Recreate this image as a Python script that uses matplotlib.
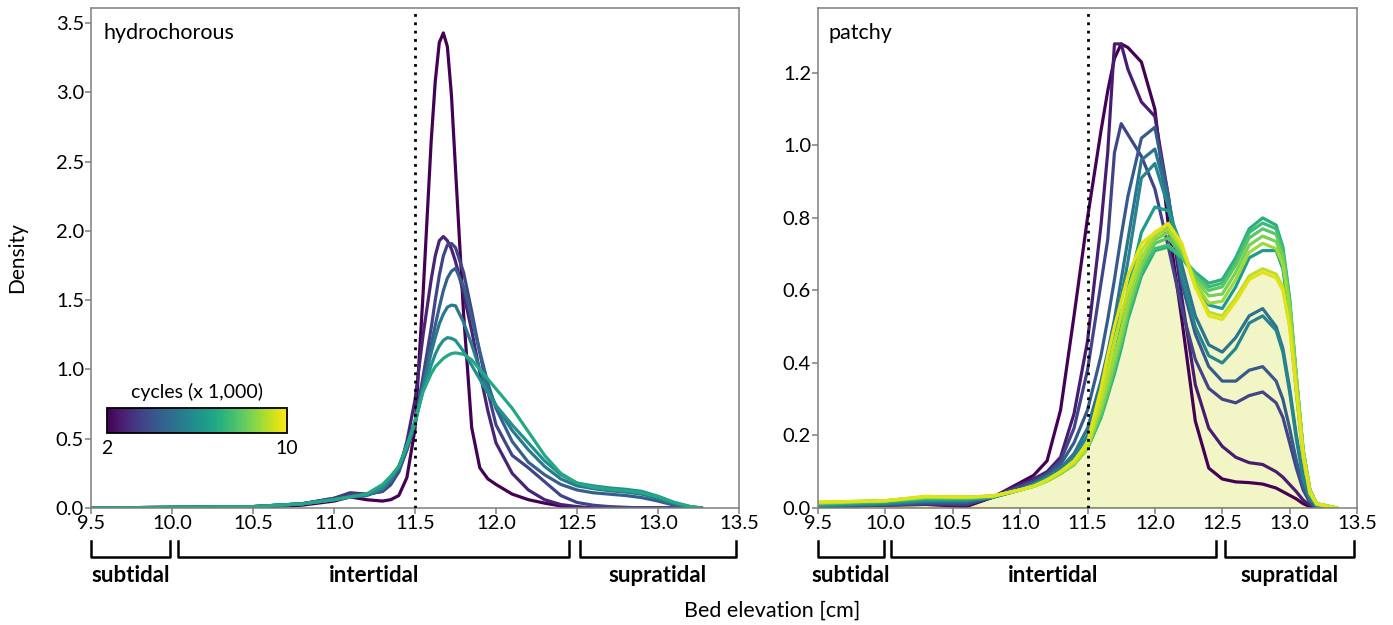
import numpy as np
import matplotlib
matplotlib.use("Agg")
import matplotlib.pyplot as plt
from matplotlib.cm import ScalarMappable
from matplotlib.colors import Normalize
import matplotlib.transforms as mtransforms

plt.rcParams['font.family'] = ['Lato', 'DejaVu Sans']

# ---- hydrochorous panel: density ----
hydro_x = [9.5, 10.0, 10.5, 10.8, 11.0, 11.1, 11.2, 11.3, 11.35, 11.4, 11.45, 11.5, 11.55, 11.6,
           11.625, 11.65, 11.675, 11.7, 11.725, 11.75, 11.8, 11.85, 11.9, 11.95, 12.0, 12.1,
           12.2, 12.3, 12.4, 12.5, 12.6, 12.7, 12.8, 12.9, 13.0, 13.1, 13.2, 13.27]
hydro_1 = [0.0, 0.0, 0.005, 0.02, 0.05, 0.08, 0.06, 0.05, 0.06, 0.09, 0.22, 0.57, 1.55, 2.65,
           3.08, 3.36, 3.43, 3.33, 2.98, 2.45, 1.40, 0.58, 0.29, 0.21, 0.17, 0.10,
           0.06, 0.035, 0.015, 0.005, 0.0, 0.0, 0.0, 0.0, 0.0, 0.0, 0.0, 0.0]
hydro_2 = [0.0, 0.005, 0.01, 0.03, 0.07, 0.11, 0.10, 0.12, 0.17, 0.27, 0.48, 0.78, 1.25, 1.65,
           1.82, 1.93, 1.96, 1.93, 1.87, 1.78, 1.55, 1.28, 0.98, 0.70, 0.47, 0.25,
           0.13, 0.06, 0.025, 0.01, 0.0, 0.0, 0.0, 0.0, 0.0, 0.0, 0.0, 0.0]
hydro_3 = [0.0, 0.005, 0.01, 0.03, 0.07, 0.10, 0.10, 0.12, 0.17, 0.26, 0.42, 0.62, 0.95, 1.30,
           1.50, 1.68, 1.82, 1.90, 1.91, 1.88, 1.70, 1.42, 1.12, 0.84, 0.60, 0.38,
           0.29, 0.19, 0.09, 0.04, 0.02, 0.01, 0.005, 0.0, 0.0, 0.0, 0.0, 0.0]
hydro_4 = [0.0, 0.005, 0.01, 0.03, 0.06, 0.08, 0.09, 0.13, 0.19, 0.28, 0.42, 0.60, 0.88, 1.18,
           1.32, 1.45, 1.57, 1.66, 1.71, 1.73, 1.60, 1.37, 1.13, 0.90, 0.72, 0.48,
           0.33, 0.24, 0.17, 0.13, 0.11, 0.10, 0.09, 0.075, 0.05, 0.02, 0.005, 0.0]
hydro_5 = [0.0, 0.005, 0.01, 0.03, 0.06, 0.08, 0.09, 0.14, 0.20, 0.30, 0.44, 0.62, 0.88, 1.12,
           1.23, 1.33, 1.40, 1.45, 1.465, 1.46, 1.34, 1.18, 1.00, 0.86, 0.74, 0.56,
           0.42, 0.30, 0.21, 0.16, 0.14, 0.125, 0.115, 0.10, 0.07, 0.03, 0.008, 0.0]
hydro_6 = [0.0, 0.005, 0.01, 0.03, 0.06, 0.08, 0.10, 0.15, 0.22, 0.30, 0.45, 0.62, 0.85, 1.03,
           1.11, 1.17, 1.21, 1.23, 1.225, 1.21, 1.13, 1.03, 0.93, 0.83, 0.74, 0.60,
           0.47, 0.34, 0.24, 0.18, 0.16, 0.145, 0.135, 0.12, 0.085, 0.04, 0.01, 0.0]
hydro_7 = [0.0, 0.005, 0.01, 0.03, 0.06, 0.08, 0.10, 0.17, 0.23, 0.30, 0.45, 0.63, 0.84, 0.97,
           1.02, 1.05, 1.08, 1.10, 1.115, 1.12, 1.11, 1.07, 1.00, 0.93, 0.86, 0.72,
           0.55, 0.38, 0.25, 0.18, 0.15, 0.135, 0.125, 0.11, 0.08, 0.04, 0.01, 0.0]
hydro_curves = [hydro_1, hydro_2, hydro_3, hydro_4, hydro_5, hydro_6, hydro_7]

# ---- patchy panel ----
patchy_x = [9.5, 10.0, 10.3, 10.6, 10.8, 11.0, 11.1, 11.2, 11.3, 11.4, 11.5, 11.6, 11.65, 11.7,
            11.75, 11.8, 11.9, 12.0, 12.1, 12.2, 12.3, 12.4, 12.5, 12.6, 12.7, 12.8, 12.9,
            12.95, 13.0, 13.05, 13.1, 13.15, 13.2, 13.35]
patchy_1 = [0.004, 0.008, 0.01, 0.004, 0.03, 0.07, 0.09, 0.13, 0.27, 0.53, 0.80, 1.04, 1.15, 1.24,
            1.28, 1.27, 1.23, 1.10, 0.78, 0.52, 0.24, 0.11, 0.08, 0.072, 0.07, 0.066, 0.055,
            0.045, 0.035, 0.025, 0.012, 0.004, 0.0, 0.0]
patchy_2 = [0.004, 0.008, 0.01, 0.008, 0.03, 0.065, 0.08, 0.10, 0.14, 0.26, 0.46, 0.78, 0.98, 1.28,
            1.28, 1.21, 1.12, 1.08, 0.86, 0.58, 0.34, 0.22, 0.17, 0.14, 0.125, 0.12, 0.10,
            0.085, 0.065, 0.045, 0.022, 0.008, 0.0, 0.0]
patchy_3 = [0.004, 0.008, 0.012, 0.01, 0.03, 0.06, 0.075, 0.095, 0.13, 0.22, 0.38, 0.62, 0.74, 0.98,
            1.06, 1.03, 0.97, 0.88, 0.72, 0.55, 0.41, 0.33, 0.30, 0.29, 0.31, 0.32, 0.29,
            0.25, 0.18, 0.11, 0.05, 0.015, 0.0, 0.0]
patchy_4 = [0.005, 0.01, 0.015, 0.015, 0.03, 0.055, 0.07, 0.09, 0.12, 0.18, 0.27, 0.42, 0.52, 0.63,
            0.75, 0.86, 1.02, 1.05, 0.86, 0.62, 0.48, 0.39, 0.35, 0.35, 0.38, 0.39, 0.35,
            0.30, 0.22, 0.13, 0.06, 0.02, 0.0, 0.0]
patchy_5 = [0.006, 0.012, 0.018, 0.02, 0.03, 0.05, 0.065, 0.085, 0.11, 0.15, 0.22, 0.35, 0.43, 0.52,
            0.63, 0.74, 0.96, 0.99, 0.85, 0.67, 0.53, 0.45, 0.43, 0.47, 0.53, 0.55, 0.50,
            0.44, 0.33, 0.20, 0.09, 0.03, 0.005, 0.0]
patchy_6 = [0.006, 0.012, 0.02, 0.02, 0.03, 0.05, 0.065, 0.085, 0.105, 0.14, 0.20, 0.31, 0.39, 0.48,
            0.58, 0.68, 0.91, 0.95, 0.83, 0.64, 0.50, 0.42, 0.40, 0.44, 0.51, 0.53, 0.49,
            0.43, 0.32, 0.19, 0.08, 0.025, 0.005, 0.0]
patchy_7 = [0.008, 0.015, 0.022, 0.022, 0.03, 0.05, 0.065, 0.08, 0.10, 0.13, 0.18, 0.28, 0.34, 0.42,
            0.50, 0.60, 0.76, 0.83, 0.82, 0.72, 0.62, 0.56, 0.55, 0.61, 0.69, 0.71, 0.71,
            0.66, 0.52, 0.32, 0.14, 0.04, 0.01, 0.0]
patchy_8 = [0.01, 0.017, 0.025, 0.025, 0.03, 0.05, 0.06, 0.075, 0.095, 0.12, 0.165, 0.25, 0.31, 0.37,
            0.44, 0.52, 0.64, 0.71, 0.72, 0.69, 0.65, 0.62, 0.63, 0.69, 0.77, 0.80, 0.78,
            0.72, 0.58, 0.36, 0.16, 0.05, 0.01, 0.0]
patchy_9 = [0.012, 0.018, 0.027, 0.027, 0.032, 0.05, 0.06, 0.075, 0.095, 0.12, 0.165, 0.25, 0.31, 0.38,
            0.45, 0.53, 0.65, 0.715, 0.725, 0.69, 0.64, 0.61, 0.62, 0.68, 0.76, 0.786, 0.77,
            0.71, 0.57, 0.36, 0.16, 0.05, 0.012, 0.0]
patchy_10 = [0.013, 0.02, 0.028, 0.028, 0.033, 0.05, 0.06, 0.075, 0.095, 0.12, 0.165, 0.26, 0.32, 0.39,
             0.46, 0.54, 0.66, 0.73, 0.745, 0.70, 0.64, 0.60, 0.61, 0.67, 0.745, 0.77, 0.755,
             0.70, 0.57, 0.36, 0.16, 0.05, 0.012, 0.0]
patchy_11 = [0.014, 0.02, 0.03, 0.03, 0.033, 0.05, 0.06, 0.075, 0.095, 0.12, 0.165, 0.27, 0.33, 0.40,
             0.47, 0.55, 0.67, 0.74, 0.76, 0.71, 0.63, 0.585, 0.59, 0.65, 0.725, 0.75, 0.735,
             0.69, 0.56, 0.36, 0.16, 0.05, 0.012, 0.0]
patchy_12 = [0.015, 0.02, 0.03, 0.03, 0.033, 0.05, 0.06, 0.075, 0.095, 0.12, 0.165, 0.28, 0.35, 0.42,
             0.49, 0.57, 0.69, 0.75, 0.77, 0.715, 0.62, 0.565, 0.57, 0.63, 0.705, 0.73, 0.715,
             0.67, 0.55, 0.35, 0.16, 0.05, 0.012, 0.0]
patchy_13 = [0.016, 0.02, 0.032, 0.03, 0.033, 0.05, 0.06, 0.075, 0.10, 0.125, 0.17, 0.30, 0.38, 0.46,
             0.53, 0.60, 0.71, 0.76, 0.78, 0.72, 0.61, 0.54, 0.53, 0.58, 0.64, 0.66, 0.645,
             0.61, 0.50, 0.32, 0.14, 0.04, 0.01, 0.0]
patchy_14 = [0.016, 0.02, 0.032, 0.03, 0.033, 0.05, 0.06, 0.078, 0.10, 0.13, 0.18, 0.33, 0.42, 0.50,
             0.57, 0.64, 0.73, 0.76, 0.785, 0.73, 0.61, 0.53, 0.52, 0.57, 0.63, 0.65, 0.635,
             0.60, 0.50, 0.33, 0.15, 0.045, 0.012, 0.0]
patchy_curves = [patchy_1, patchy_2, patchy_3, patchy_4, patchy_5, patchy_6, patchy_7,
                 patchy_8, patchy_9, patchy_10, patchy_11, patchy_12, patchy_13, patchy_14]

zones = ['subtidal', 'intertidal', 'supratidal']
zone_edges = [(9.5, 9.99), (10.04, 12.45), (12.52, 13.48)]
cycle_range = [2, 10]
threshold = 11.5

cmap = plt.get_cmap('viridis')
hydro_colors = cmap(np.linspace(0, 0.6, len(hydro_curves)))
# position of each patchy curve on the colour scale (matched by eye)
patchy_shades = [0.0, 0.08, 0.2, 0.28, 0.38, 0.45, 0.55, 0.63, 0.68, 0.74, 0.8, 0.85, 0.9, 0.95]
patchy_colors = cmap(patchy_shades)

fig = plt.figure(figsize=(13.93, 6.25), dpi=100)
ax1 = fig.add_axes([91/1393, 117/625, 648/1393, 500/625])
ax2 = fig.add_axes([818/1393, 117/625, 539/1393, 500/625])

# filled area under the last patchy curve
ax2.fill_between(patchy_x, patchy_curves[-1], color='#f2f5c6', lw=0, zorder=0.5)
ax2.plot(patchy_x, np.zeros(len(patchy_x)), color='#c8dc3a', lw=1.5, zorder=0.6)

for ys, c in zip(hydro_curves, hydro_colors):
    ax1.plot(hydro_x, ys, color=c, lw=2.3, solid_capstyle='round')
for ys, c in zip(patchy_curves, patchy_colors):
    ax2.plot(patchy_x, ys, color=c, lw=2.3, solid_capstyle='round')

for ax, ymax, yticks, name in [(ax1, 3.61, np.arange(0, 3.51, 0.5), 'hydrochorous'),
                               (ax2, 1.379, np.arange(0, 1.21, 0.2), 'patchy')]:
    ax.axvline(threshold, color='black', ls=(0, (1, 2)), lw=2, zorder=5)
    ax.set_xlim(9.5, 13.5)
    ax.set_ylim(0, ymax)
    ax.set_xticks(np.arange(9.5, 13.51, 0.5))
    ax.set_xticklabels([f'{v:.1f}' for v in np.arange(9.5, 13.51, 0.5)])
    ax.set_yticks(yticks)
    ax.set_yticklabels([f'{v:.1f}' for v in yticks])
    for sp in ax.spines.values():
        sp.set_color('#7f7f7f')
        sp.set_linewidth(1.1)
    ax.tick_params(colors='#7f7f7f', labelcolor='black', labelsize=14.5, length=4, width=1.1, pad=1)
    ax.text(0.019, 0.97, name, transform=ax.transAxes, fontsize=15.5, va='top', ha='left')

    # zone brackets under the x axis
    tr = mtransforms.blended_transform_factory(ax.transData, ax.transAxes)
    for label, (x0, x1) in zip(zones, zone_edges):
        ax.plot([x0, x0, x1, x1], [-0.066, -0.098, -0.098, -0.066], color='black', lw=1.8,
                transform=tr, clip_on=False, solid_joinstyle='round')
        ax.text((x0 + x1) / 2, -0.113, label, transform=tr, ha='center', va='top',
                fontsize=16, fontweight='bold')

ax1.set_ylabel('Density', fontsize=15, labelpad=21)
fig.text(772/1393, 1 - 611/625, 'Bed elevation [cm]', ha='center', va='center', fontsize=15.5)

# colour bar inset
cax = fig.add_axes([107/1393, 1 - 433/625, 180/1393, 25/625])
sm = ScalarMappable(norm=Normalize(*cycle_range), cmap=cmap)
cb = fig.colorbar(sm, cax=cax, orientation='horizontal', ticks=cycle_range)
cb.outline.set_linewidth(1.3)
cb.outline.set_edgecolor('black')
cax.tick_params(length=0, labelsize=14, pad=5)
cax.set_title('cycles (x 1,000)', fontsize=14, pad=7)

fig.savefig('out.png', dpi=100)
